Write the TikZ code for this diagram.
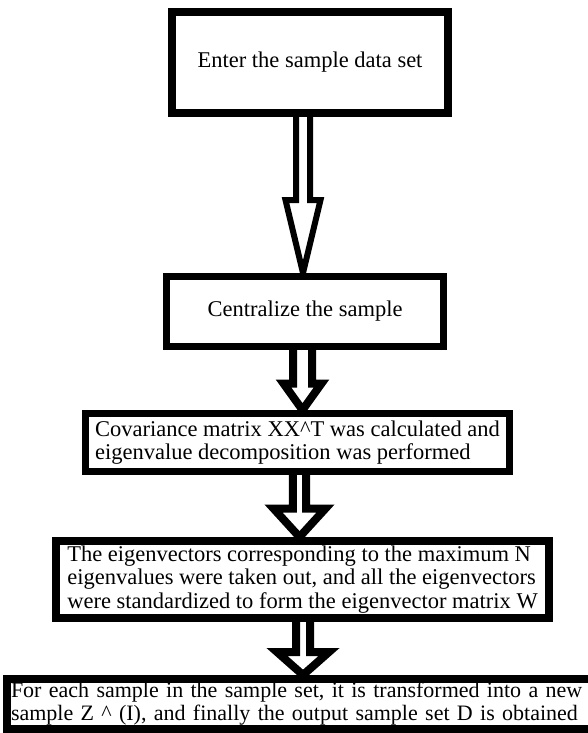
\documentclass[tikz,border=0pt]{standalone}
\usepackage{fontspec}
\setmainfont{Liberation Serif}
\usetikzlibrary{calc,backgrounds}

% hollow block arrow: [opts]{from}{to}{x}{shaft half}{head half}{head length}
\newcommand\hollowarrow[7][]{%
  \draw[harr,#1] let \p1=(#2.south), \p2=(#3.north) in
    (#4-#5,\y1) -- (#4-#5,\y2+#7) -- (#4-#6,\y2+#7) -- (#4,\y2)
    -- (#4+#6,\y2+#7) -- (#4+#5,\y2+#7) -- (#4+#5,\y1);}

\begin{document}
\begin{tikzpicture}[
  x=1pt,y=-1pt,
  box/.style={draw=black,fill=white,line width=8pt,align=left,inner sep=3pt,
              font=\fontsize{22.5}{23.5}\selectfont},
  harr/.style={draw=black,fill=white,line width=8pt,line join=miter}
]
\useasboundingbox (0,0) rectangle (587,733);
\node[box,minimum width=276pt,minimum height=101pt] (enter) at (310,62.5)
  {Enter the sample data set};
\node[box,line width=7pt,minimum width=277pt,minimum height=70pt] (centre) at (305,311.5)
  {Centralize the sample};
\node[box,line width=7pt,minimum width=424pt,minimum height=58pt] (cov) at (297.5,442.5)
  {Covariance matrix XX\textasciicircum T was calculated and\\
   eigenvalue decomposition was performed};
\node[box,minimum width=493pt,minimum height=77pt] (eig) at (302.5,579.5)
  {The eigenvectors corresponding to the maximum N\\
   eigenvalues were taken out, and all the eigenvectors\\
   were standardized to form the eigenvector matrix W};
\node[box,minimum height=50pt,inner xsep=4pt,text width=586pt,
      font=\fontsize{22}{23}\selectfont] (out) at (304,704)
  {For each sample in the sample set, it is transformed into a new\\
   sample Z \textasciicircum{} (I), and finally the output sample set D is obtained};
% block arrows behind the boxes
\begin{scope}[on background layer]
  \hollowarrow[line width=6pt]{enter}{centre}{303pt}{7pt}{17.5pt}{73pt}
  \hollowarrow{centre}{cov}{302.5pt}{9.5pt}{19pt}{26.5pt}
  \hollowarrow{cov}{eig}{299.5pt}{6.7pt}{26pt}{28.5pt}
  \hollowarrow{eig}{out}{303pt}{7pt}{26pt}{23pt}
\end{scope}
\end{tikzpicture}
\end{document}
